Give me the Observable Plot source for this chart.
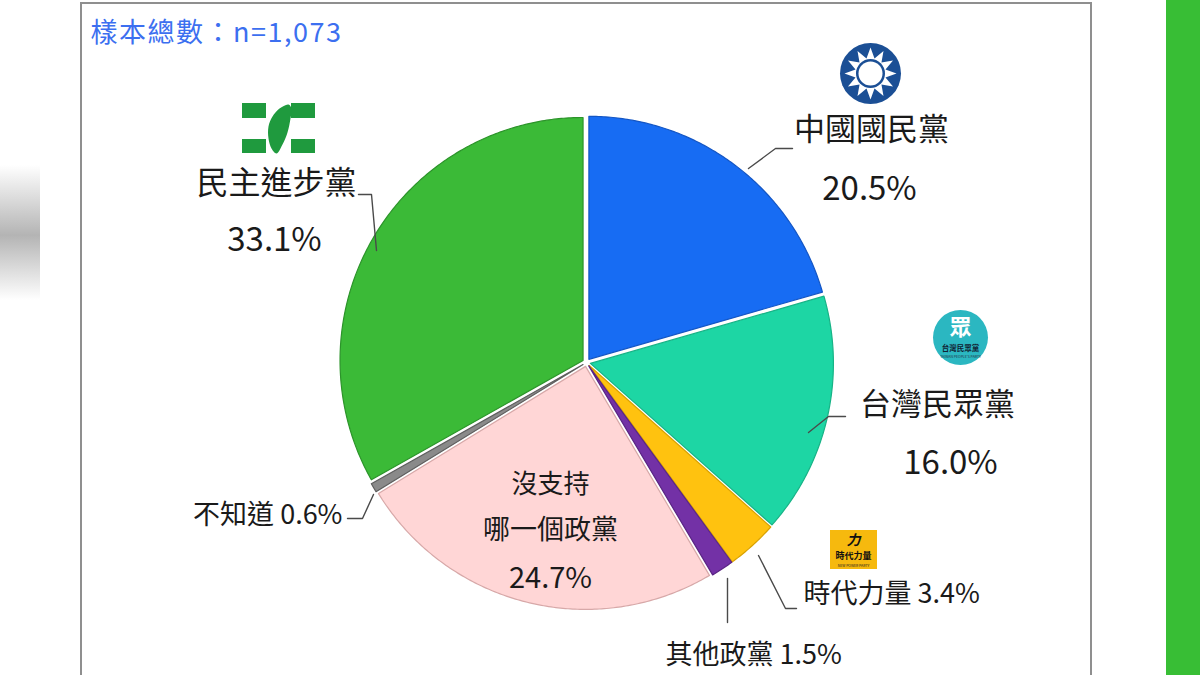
<!DOCTYPE html>
<html><head><meta charset="utf-8">
<script src="https://cdn.jsdelivr.net/npm/d3@7"></script>
<script src="https://cdn.jsdelivr.net/npm/@observablehq/plot@0.6"></script>
<style>
body{margin:0;background:#fff;}
#wrap{position:relative;width:1200px;height:675px;overflow:hidden;background:#fff;}
#blur{position:absolute;left:0;top:165px;width:40px;height:135px;background:linear-gradient(to bottom,rgba(255,255,255,0),#b4b4b4 52%,rgba(255,255,255,0));}
#chart{position:absolute;left:0;top:0;}
</style></head>
<body>
<div id="wrap"><div id="blur"></div><div id="chart"></div></div>
<script>
// ---- data ----
const parties = ["中國國民黨","台灣民眾黨","時代力量","其他政黨","沒支持哪一個政黨","不知道","民主進步黨"];
const shares = [20.5, 16.0, 3.4, 1.5, 24.7, 0.6, 33.1];
const sliceColors = ["#176cf3","#1dd6a4","#ffc20f","#7331a6","#ffd6d6","#8a8a8a","#3bba37"];
const edgeColors  = ["#1456c4","#17b386","#d9a200","#5a2484","#d7a8a8","#5e5e5e","#2c942a"];
const sampleTitle = "樣本總數：n=1,073";
const nameLabels = ["中國國民黨","台灣民眾黨","時代力量 3.4%","其他政黨 1.5%","不知道 0.6%","民主進步黨"];
const pctLabels = ["20.5%","16.0%","33.1%","24.7%"];
const innerLabel = ["沒支持","哪一個政黨"];

// ---- layout ----
const FONT = "'Noto Sans CJK TC','Noto Sans',sans-serif";
const pie = {cx: 586, cy: 362, r: 243, explode: 4};

const arcs = d3.pie().sort(null).value(d => d)(shares);
const marks = [];

// background green bar and frame
marks.push(Plot.rect([0], {x1: 1166, x2: 1200, y1: 0, y2: 675, fill: "#38be35"}));
marks.push(Plot.rect([0], {x1: 81, x2: 1091, y1: 3, y2: 700, fill: "none", stroke: "#8f8f8f", strokeWidth: 2}));

// pie slices
arcs.forEach((a, i) => {
  const m = (a.startAngle + a.endAngle) / 2;
  const ox = pie.cx + pie.explode * Math.sin(m), oy = pie.cy - pie.explode * Math.cos(m);
  const pts = [{x: ox, y: oy}];
  const n = Math.max(4, Math.ceil((a.endAngle - a.startAngle) / 0.01));
  for (let k = 0; k <= n; k++) {
    const t = a.startAngle + (a.endAngle - a.startAngle) * k / n;
    pts.push({x: ox + pie.r * Math.sin(t), y: oy - pie.r * Math.cos(t)});
  }
  marks.push(Plot.line(pts, {x: "x", y: "y", curve: "linear-closed", fill: sliceColors[i], stroke: edgeColors[i], strokeWidth: 1.2}));
});

// leader lines
const leaders = [
  [[748,168],[775,148],[792,148]],
  [[808,432],[828,416],[845,416]],
  [[758,555],[785,608],[796,608]],
  [[727,578],[727,622]],
  [[373,494],[362,518],[347,518]],
  [[376,250],[371,194],[358,194]]
];
leaders.forEach(l => marks.push(Plot.line(l.map(([x,y]) => ({x,y})), {x:"x", y:"y", stroke:"#4a4a4a", strokeWidth:1.4})));

// KMT logo
const kmt = {x: 870, y: 73};
marks.push(Plot.dot([kmt], {x:"x", y:"y", r: 30.5, fill: "#1b4f95"}));
const star = [];
for (let k = 0; k < 24; k++) {
  const t = k * Math.PI / 12, rr = k % 2 === 0 ? 26 : 15.5;
  star.push({x: kmt.x + rr * Math.sin(t), y: kmt.y - rr * Math.cos(t)});
}
marks.push(Plot.line(star, {x:"x", y:"y", curve:"linear-closed", fill:"#fff", stroke:"none"}));
marks.push(Plot.dot([kmt], {x:"x", y:"y", r: 14.5, fill: "#1b4f95"}));
marks.push(Plot.dot([kmt], {x:"x", y:"y", r: 12, fill: "#fff"}));

// DPP logo
const dppG = "#1f9a3e";
marks.push(Plot.rect([[242,266,103,118],[242,266,139,153],[291,315,103,118],[291,315,139,153]],
  {x1: d=>d[0], x2: d=>d[1], y1: d=>d[2], y2: d=>d[3], fill: dppG}));
const taiwan = [[288,104],[291,108],[290,118],[287,132],[282,144],[276,153],[271,148],[268,138],[268,126],[272,116],[279,108]];
marks.push(Plot.line(taiwan.map(([x,y])=>({x,y})), {x:"x", y:"y", curve:"catmull-rom-closed", fill: dppG}));

// TPP logo
marks.push(Plot.dot([{x:960,y:337}], {x:"x", y:"y", r: 27.5, fill: "#2bb7c1"}));
marks.push(Plot.text([{x:960,y:327}], {x:"x", y:"y", text: () => "眾", fill:"#fff", fontSize: 22, fontWeight: "bold", fontFamily: FONT}));
marks.push(Plot.text([{x:960,y:348}], {x:"x", y:"y", text: () => "台灣民眾黨", fill:"#123", fontSize: 7.5, fontWeight: "bold", fontFamily: FONT}));
marks.push(Plot.text([{x:960,y:356}], {x:"x", y:"y", text: () => "TAIWAN PEOPLE'S PARTY", fill:"#234", fontSize: 3.5, fontFamily: FONT}));

// NPP logo
marks.push(Plot.rect([0], {x1: 830, x2: 877, y1: 530, y2: 569, fill: "#f6b90e"}));
marks.push(Plot.text([{x:853,y:540}], {x:"x", y:"y", text: () => "力", fill:"#111", fontSize: 14, fontWeight:"bold", fontStyle:"italic", fontFamily: FONT}));
marks.push(Plot.text([{x:853,y:556}], {x:"x", y:"y", text: () => "時代力量", fill:"#111", fontSize: 9, fontWeight:"bold", fontFamily: FONT}));
marks.push(Plot.text([{x:853,y:565}], {x:"x", y:"y", text: () => "NEW POWER PARTY", fill:"#222", fontSize: 3.5, fontFamily: FONT}));

// title
marks.push(Plot.text([sampleTitle], {x: 90, y: 33, text: d => d, textAnchor: "start", fill: "#3c6ff0", fontSize: 27, fontFamily: FONT}));

// labels
const txt = (s, x, y, size, anchor="middle") => Plot.text([s], {x, y, text: d => d, textAnchor: anchor, fill: "#1a1a1a", fontSize: size, fontFamily: FONT});
marks.push(txt(nameLabels[0], 871, 130, 31));
marks.push(txt(pctLabels[0], 869, 189, 33));
marks.push(txt(nameLabels[1], 937, 405, 31));
marks.push(txt(pctLabels[1], 950, 463, 33));
marks.push(txt(nameLabels[2], 803, 594, 27, "start"));
marks.push(txt(nameLabels[3], 665, 655, 27, "start"));
marks.push(txt(nameLabels[4], 342, 515, 27, "end"));
marks.push(txt(nameLabels[5], 276, 183, 32));
marks.push(txt(pctLabels[2], 274, 240, 33));
marks.push(txt(innerLabel[0], 550, 484, 26));
marks.push(txt(innerLabel[1], 550, 530, 27));
marks.push(txt(pctLabels[3], 550, 578, 29));

const chart = Plot.plot({
  width: 1200, height: 675, margin: 0,
  x: {domain: [0, 1200], range: [0, 1200], axis: null},
  y: {domain: [0, 675], range: [0, 675], axis: null},
  style: {background: "transparent", overflow: "hidden"},
  marks
});
d3.select(chart).selectAll("text").filter(function() { return this.textContent === sampleTitle; }).attr("letter-spacing", 1.5);
document.getElementById("chart").appendChild(chart);
</script>
</body></html>
